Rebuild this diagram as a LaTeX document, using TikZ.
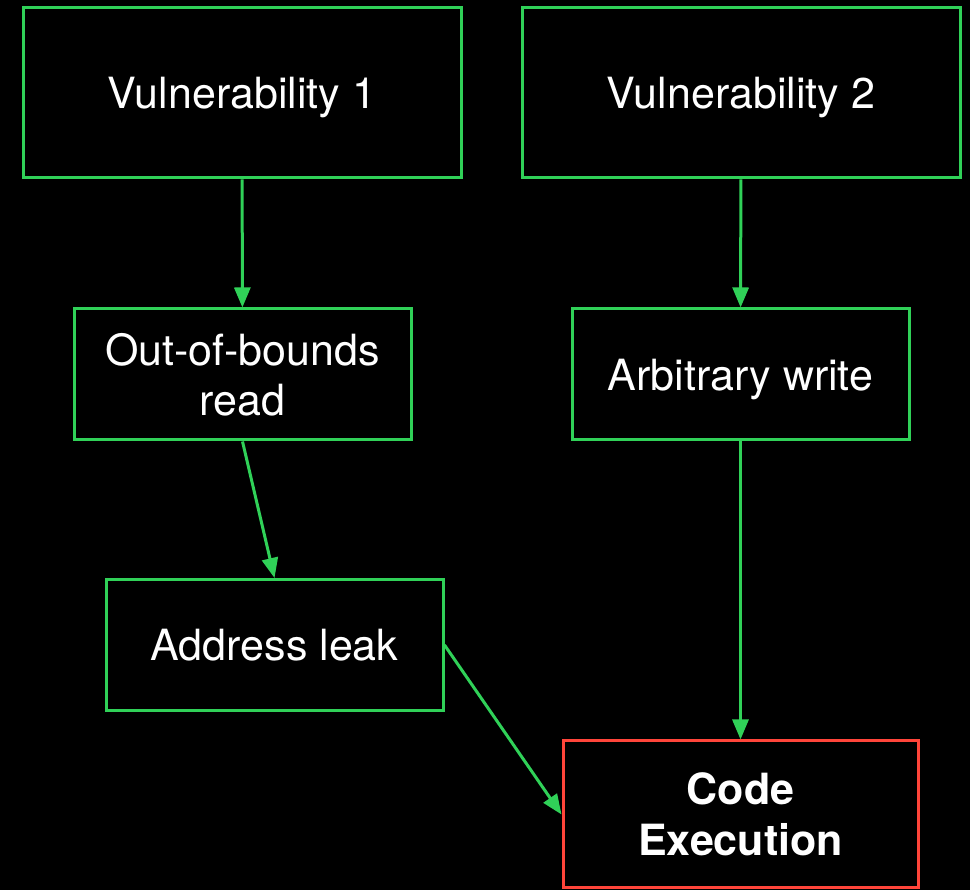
\documentclass[tikz,border=0pt]{standalone}
\usepackage{fontspec}
\setmainfont{TeX Gyre Heros}
\usetikzlibrary{arrows.meta}
\definecolor{boxgreen}{HTML}{30D158}
\definecolor{boxred}{HTML}{FF453A}
\begin{document}
\begin{tikzpicture}
[x=1pt,y=1pt,>={Triangle[length=20pt,width=16pt]},
box/.style = {draw=boxgreen, line width=3pt, text=white, align=center, inner sep=0pt,
  text depth=0pt, font=\fontsize{43}{50}\selectfont},
topbox/.style = {box, minimum width=438pt, minimum height=170pt},
stepbox/.style = {box, minimum width=337pt, minimum height=131pt},
goalbox/.style = {box, draw=boxred, minimum width=355pt, minimum height=147pt,
  font=\fontsize{43}{51}\selectfont\bfseries},
link/.style = {->, draw=boxgreen, line width=3pt},]
\fill[black] (0,0) rectangle (970,890);
\useasboundingbox (0,0) rectangle (970,890);
\node (V1) at (242,797)[topbox] {Vulnerability 1};
\node (V2) at (741,797)[topbox] {Vulnerability 2};
\node (OOB) at (242.5,515.5)[stepbox] {Out-of-bounds\\read};
\node (AW) at (740.5,515.5)[stepbox] {Arbitrary write};
\node (AL) at (274.5,245)[stepbox] {Address leak};
\node (CE) at (740.5,75.5)[goalbox] {Code\\Execution};
\draw[link] (V1)--(OOB);
\draw[link] (V2)--(AW);
\draw[link] (OOB.south)--(AL.north);
\draw[link] (AW)--(CE);
\draw[link] (AL.east)--(CE.west);
\end{tikzpicture}
\end{document}
